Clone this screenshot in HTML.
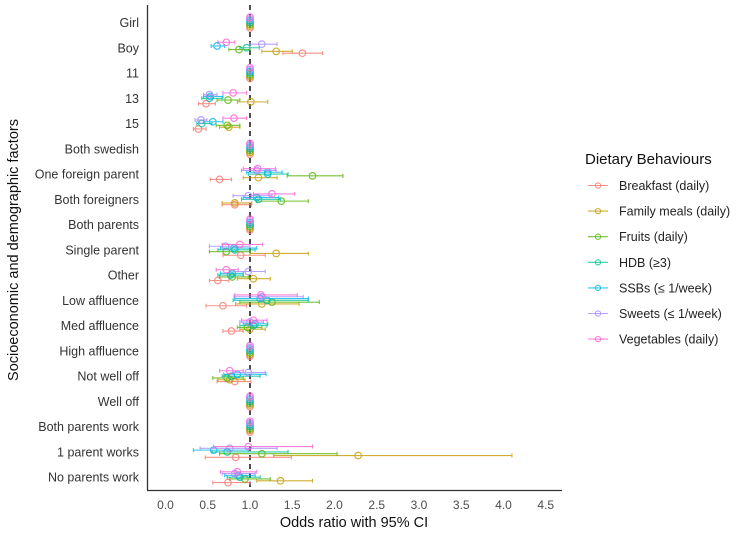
<!DOCTYPE html>
<html><head><meta charset="utf-8"><style>
body{margin:0;background:#fff;font-family:"Liberation Sans",Arial,sans-serif;}
</style></head><body>
<svg id="chart" width="744" height="533" xmlns="http://www.w3.org/2000/svg" font-family="Liberation Sans, Arial, sans-serif"></svg>
<script>
const categories=["Girl","Boy","11","13","15","Both swedish","One foreign parent","Both foreigners","Both parents","Single parent","Other","Low affluence","Med affluence","High affluence","Not well off","Well off","Both parents work","1 parent works","No parents work"];
const seriesNames=["Breakfast (daily)","Family meals (daily)","Fruits (daily)","HDB (≥3)","SSBs (≤ 1/week)","Sweets (≤ 1/week)","Vegetables (daily)"];
const seriesColors=["#F8766D","#C49A00","#53B400","#00C094","#00B6EB","#A58AFF","#FB61D7"];
const xTicks=[0,0.5,1,1.5,2,2.5,3,3.5,4,4.5];
// per series: [OR, lo, hi] per category
const breakfast=[[1,1,1],[1.62,1.39,1.86],[1,1,1],[0.48,0.39,0.59],[0.39,0.33,0.48],[1,1,1],[0.64,0.53,0.78],[0.82,0.67,1.02],[1,1,1],[0.89,0.68,1.18],[0.62,0.52,0.75],[0.68,0.48,0.96],[0.78,0.68,0.92],[1,1,1],[0.82,0.61,1.01],[1,1,1],[1,1,1],[0.83,0.47,1.49],[0.74,0.56,1.0]];
const familyMeals=[[1,1,1],[1.31,1.14,1.5],[1,1,1],[1.01,0.85,1.21],[0.75,0.64,0.88],[1,1,1],[1.1,0.92,1.32],[0.82,0.67,1.02],[1,1,1],[1.31,1.0,1.69],[1.04,0.85,1.24],[1.14,0.83,1.58],[1.0,0.88,1.18],[1,1,1],[0.76,0.62,0.94],[1,1,1],[1,1,1],[2.28,1.28,4.1],[1.36,1.08,1.74]];
const fruits=[[1,1,1],[0.87,0.75,1.0],[1,1,1],[0.74,0.61,0.88],[0.73,0.6,0.88],[1,1,1],[1.74,1.44,2.1],[1.37,1.08,1.69],[1,1,1],[0.72,0.52,1.0],[0.79,0.64,0.98],[1.26,0.88,1.82],[0.97,0.85,1.14],[1,1,1],[0.73,0.56,0.92],[1,1,1],[1,1,1],[1.14,0.64,2.03],[0.94,0.76,1.24]];
const hdb=[[1,1,1],[0.96,0.88,1.11],[1,1,1],[0.52,0.43,0.67],[0.43,0.37,0.55],[1,1,1],[1.21,0.98,1.45],[1.1,0.9,1.36],[1,1,1],[0.82,0.62,1.06],[0.77,0.62,0.92],[1.2,0.8,1.69],[1.04,0.88,1.2],[1,1,1],[0.78,0.67,1.12],[1,1,1],[1,1,1],[0.73,0.55,1.45],[0.88,0.73,1.12]];
const ssbs=[[1,1,1],[0.61,0.54,0.7],[1,1,1],[0.53,0.45,0.68],[0.56,0.45,0.68],[1,1,1],[1.21,0.96,1.38],[1.08,0.92,1.34],[1,1,1],[0.81,0.65,1.08],[0.79,0.65,0.92],[1.12,0.82,1.69],[1.06,0.92,1.21],[1,1,1],[0.85,0.69,1.19],[1,1,1],[1,1,1],[0.57,0.33,0.98],[0.86,0.7,1.06]];
const sweets=[[1,1,1],[1.14,1.0,1.32],[1,1,1],[0.52,0.45,0.61],[0.42,0.35,0.49],[1,1,1],[1.08,0.9,1.31],[0.98,0.8,1.26],[1,1,1],[0.71,0.52,1.0],[0.98,0.8,1.18],[1.14,0.81,1.63],[1.0,0.88,1.16],[1,1,1],[0.98,0.8,1.18],[1,1,1],[1,1,1],[0.76,0.41,1.32],[0.82,0.67,1.06]];
const vegetables=[[1,1,1],[0.72,0.62,0.82],[1,1,1],[0.8,0.68,0.96],[0.81,0.68,0.96],[1,1,1],[1.09,0.92,1.3],[1.26,1.04,1.53],[1,1,1],[0.88,0.67,1.15],[0.72,0.6,0.86],[1.13,0.82,1.56],[1.04,0.9,1.2],[1,1,1],[0.76,0.64,0.92],[1,1,1],[1,1,1],[0.98,0.57,1.74],[0.85,0.65,1.08]];
const seriesData=[breakfast,familyMeals,fruits,hdb,ssbs,sweets,vegetables];

const NS="http://www.w3.org/2000/svg";
const svg=document.getElementById('chart');
function mk(tag,attrs,parent){const e=document.createElementNS(NS,tag);for(const k in attrs)e.setAttribute(k,attrs[k]);(parent||svg).appendChild(e);return e;}
const X0=165.5,XS=84.5;
const xScale=v=>X0+v*XS;
const yScale=i=>22.5+i*25.26;
const seriesOffset=s=>(3-s)*1.8;

const yAxis=mk('line',{x1:147.5,y1:5,x2:147.5,y2:490,stroke:'#333','stroke-width':1.3});


const xAxis=mk('line',{x1:147,y1:490.5,x2:562,y2:490.5,stroke:'#333','stroke-width':1.3});


xTicks.forEach(t=>{
  const tx=mk('text',{x:xScale(t),y:509,'text-anchor':'middle','font-size':12,fill:'#4d4d4d'});
  tx.textContent=t.toFixed(1);
  
  
});
categories.forEach((c,i)=>{
  const tx=mk('text',{x:139,y:yScale(i)+4.5,'text-anchor':'end','font-size':12.5,fill:'#333'});
  tx.textContent=c;
  
  
});
const xt=mk('text',{x:354,y:527,'text-anchor':'middle','font-size':14.5,fill:'#111'});
xt.textContent='Odds ratio with 95% CI';


const yt=mk('text',{x:0,y:0,'text-anchor':'middle','font-size':14.5,fill:'#111',transform:'translate(18,250) rotate(-90)'});
yt.textContent='Socioeconomic and demographic factors';



const ref=mk('line',{x1:xScale(1),y1:5,x2:xScale(1),y2:490,stroke:'#222','stroke-width':1.6,'stroke-dasharray':'5,4'});



seriesData.forEach((arr,s)=>{
  const g=mk('g',{opacity:0.8});
  
  
  const col=seriesColors[s];
  arr.forEach((d,i)=>{
    const y=yScale(i)+seriesOffset(s);
    const x1=xScale(d[1]),x2=xScale(d[2]),xp=xScale(d[0]);
    const l=mk('path',{d:`M${x1},${y}H${x2}M${x1},${y-2}V${y+2}M${x2},${y-2}V${y+2}`,stroke:col,'stroke-width':1.1,fill:'none'},g);
    
    
    const c=mk('circle',{cx:xp,cy:y,r:3.3,fill:'none',stroke:col,'stroke-width':1.2},g);
    
    
  });
});

const lg=mk('g',{});


const lt=mk('text',{x:585,y:164,'font-size':15,fill:'#111'},lg);
lt.textContent='Dietary Behaviours';


seriesNames.forEach((n,s)=>{
  const y=185.5+s*25.6;
  const e=mk('g',{},lg);
  
  
  mk('line',{x1:588,y1:y,x2:608,y2:y,stroke:seriesColors[s],'stroke-width':1.1,opacity:0.8},e);
  mk('circle',{cx:598,cy:y,r:2.6,fill:'none',stroke:seriesColors[s],'stroke-width':1.1,opacity:0.8},e);
  const t=mk('text',{x:619,y:y+4.5,'font-size':12.5,fill:'#222'},e);
  t.textContent=n;
});
</script>
</body></html>
